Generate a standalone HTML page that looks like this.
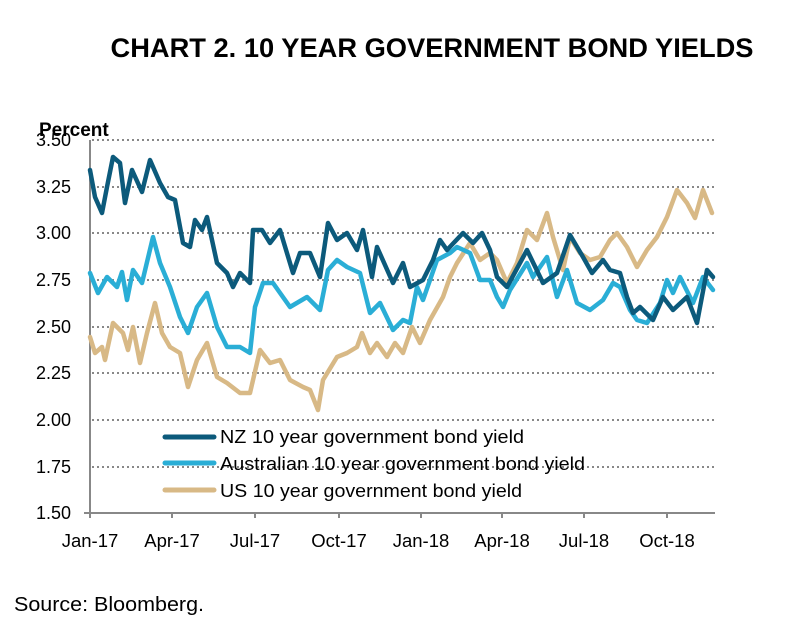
<!DOCTYPE html>
<html><head><meta charset="utf-8"><style>
body{margin:0;background:#fff;}
svg{display:block;font-family:"Liberation Sans",sans-serif;}
</style></head><body>
<svg width="805" height="638" viewBox="0 0 805 638">
<text x="432" y="57" text-anchor="middle" font-size="27" font-weight="bold" fill="#000" textLength="643" lengthAdjust="spacingAndGlyphs">CHART 2. 10 YEAR GOVERNMENT BOND YIELDS</text>
<text x="39" y="136" font-size="19" font-weight="bold">Percent</text>
<g stroke="#888" stroke-width="2" stroke-dasharray="2,3">
<line x1="92" y1="140" x2="715" y2="140"/><line x1="92" y1="187" x2="715" y2="187"/>
<line x1="92" y1="233" x2="715" y2="233"/><line x1="92" y1="280" x2="715" y2="280"/>
<line x1="92" y1="327" x2="715" y2="327"/><line x1="92" y1="373" x2="715" y2="373"/>
<line x1="92" y1="420" x2="715" y2="420"/><line x1="92" y1="467" x2="715" y2="467"/>
</g>
<g stroke="#888" stroke-width="2" fill="none">
<line x1="90" y1="140" x2="90" y2="514"/><line x1="84" y1="513" x2="715" y2="513"/>
<line x1="90" y1="513" x2="90" y2="518"/><line x1="172" y1="513" x2="172" y2="518"/>
<line x1="255" y1="513" x2="255" y2="518"/><line x1="339" y1="513" x2="339" y2="518"/>
<line x1="421" y1="513" x2="421" y2="518"/><line x1="502" y1="513" x2="502" y2="518"/>
<line x1="584" y1="513" x2="584" y2="518"/><line x1="667" y1="513" x2="667" y2="518"/>
</g>
<g font-size="18" text-anchor="end" fill="#000">
<text x="71" y="146">3.50</text><text x="71" y="193">3.25</text><text x="71" y="239">3.00</text>
<text x="71" y="286">2.75</text><text x="71" y="333">2.50</text><text x="71" y="379">2.25</text>
<text x="71" y="426">2.00</text><text x="71" y="473">1.75</text><text x="71" y="519">1.50</text>
</g>
<g font-size="18.5" text-anchor="middle" fill="#000">
<text x="90" y="547">Jan-17</text><text x="172" y="547">Apr-17</text><text x="255" y="547">Jul-17</text>
<text x="339" y="547">Oct-17</text><text x="421" y="547">Jan-18</text><text x="502" y="547">Apr-18</text>
<text x="584" y="547">Jul-18</text><text x="667" y="547">Oct-18</text>
</g>
<g fill="none" stroke-width="4.5" stroke-linejoin="round" stroke-linecap="round">
<polyline stroke="#d8b986" points="90,337 95,353 102,347 105,360 113,323 123,333 128,350 133,327 140,363 147,333 155,303 162,333 170,347 180,353 188,387 197,360 207,343 217,377 227,383 240,393 250,393 260,350 270,363 280,360 290,380 303,387 310,390 318,410 323,380 337,357 347,353 357,347 362,333 370,353 377,343 387,357 395,343 403,353 412,327 420,343 430,320 443,297 450,277 457,263 470,243 480,260 490,253 497,260 507,283 517,263 527,230 537,240 547,213 553,237 563,270 570,237 580,253 590,260 600,257 610,240 617,233 627,247 637,267 647,250 657,237 667,217 677,190 687,203 695,218 703,190 712,213"/>
<polyline stroke="#2aaed6" points="90,273 98,293 107,277 117,287 122,272 127,300 133,270 142,283 153,237 160,263 170,287 180,317 188,333 197,307 207,293 217,327 227,347 240,347 250,353 255,307 263,283 273,283 290,307 307,297 320,310 328,270 337,260 347,267 360,273 370,313 380,303 393,330 403,320 410,323 417,287 423,300 437,260 450,253 457,247 470,253 480,280 490,280 497,297 503,307 510,290 527,263 533,277 547,257 557,297 567,270 577,303 590,310 603,300 613,283 620,287 630,310 637,320 647,323 660,303 667,280 673,293 680,277 693,303 703,277 713,290"/>
<polyline stroke="#0c5a7b" points="90,170 95,197 102,213 107,187 113,157 120,163 125,203 132,170 142,192 150,160 160,183 168,197 175,200 183,243 190,247 195,220 202,230 207,217 217,263 227,273 233,287 240,273 250,283 253,230 262,230 270,243 280,230 293,273 300,253 310,253 320,277 328,223 337,240 347,233 357,250 363,230 372,277 377,247 393,283 403,263 410,287 423,280 433,260 440,240 447,250 463,233 473,243 482,233 490,250 497,277 507,287 527,250 543,283 557,273 570,235 583,257 592,273 603,260 610,270 620,273 627,297 633,313 640,307 653,320 663,297 673,310 687,297 697,323 707,270 713,277"/>
</g>
<g stroke-width="5" stroke-linecap="round">
<line x1="165" y1="437" x2="214" y2="437" stroke="#0c5a7b"/>
<line x1="165" y1="463" x2="214" y2="463" stroke="#2aaed6"/>
<line x1="165" y1="490" x2="214" y2="490" stroke="#d8b986"/>
</g>
<g font-size="18" fill="#000">
<text x="220" y="443" textLength="304" lengthAdjust="spacingAndGlyphs">NZ 10 year government bond yield</text>
<text x="220" y="470" textLength="365" lengthAdjust="spacingAndGlyphs">Australian 10 year government bond yield</text>
<text x="220" y="497" textLength="302" lengthAdjust="spacingAndGlyphs">US 10 year government bond yield</text>
</g>
<text x="14" y="611" font-size="20" fill="#000" textLength="190" lengthAdjust="spacingAndGlyphs">Source: Bloomberg.</text>
</svg>
</body></html>
